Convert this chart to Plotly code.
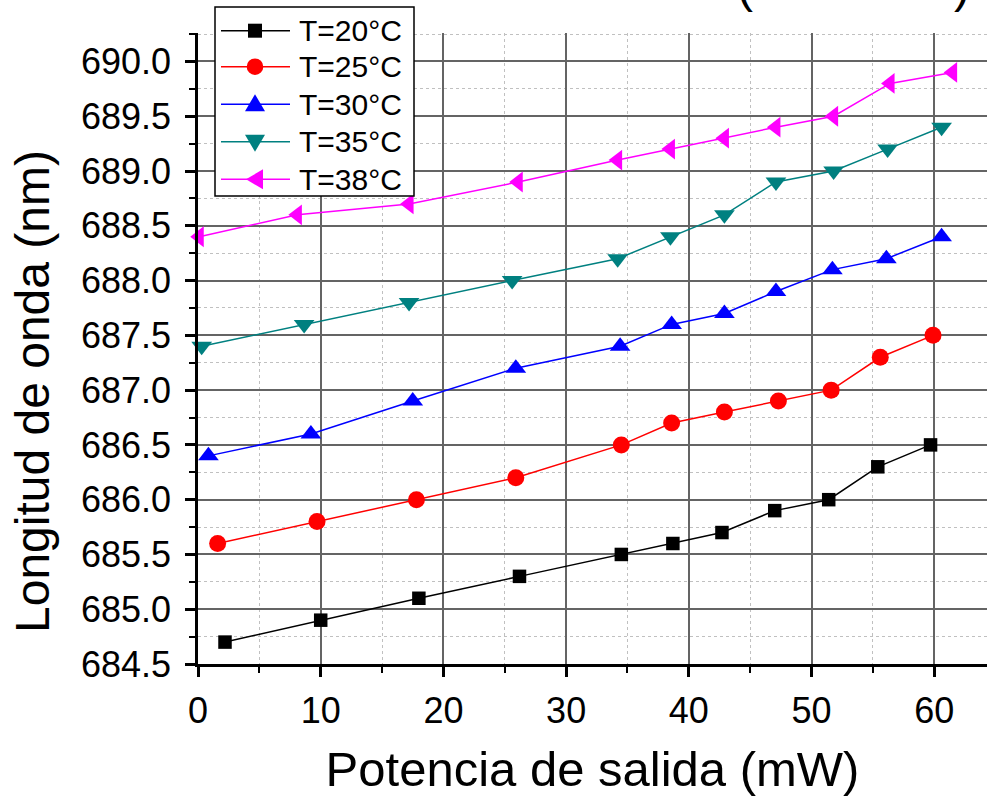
import plotly.graph_objects as go

# ---- data ----
x_20 = [2.2, 10.0, 18.0, 26.2, 34.5, 38.7, 42.7, 47.0, 51.4, 55.4, 59.7]
y_20 = [684.7, 684.9, 685.1, 685.3, 685.5, 685.6, 685.7, 685.9, 686.0, 686.3, 686.5]

x_25 = [1.6, 9.7, 17.8, 25.9, 34.5, 38.6, 42.9, 47.3, 51.6, 55.6, 59.9]
y_25 = [685.6, 685.8, 686.0, 686.2, 686.5, 686.7, 686.8, 686.9, 687.0, 687.3, 687.5]

x_30 = [0.85, 9.2, 17.5, 25.9, 34.4, 38.6, 42.9, 47.1, 51.7, 56.1, 60.6]
y_30 = [686.4, 686.6, 686.9, 687.2, 687.4, 687.6, 687.7, 687.9, 688.1, 688.2, 688.4]

x_35 = [0.3, 8.65, 17.2, 25.6, 34.2, 38.5, 42.9, 47.1, 51.8, 56.2, 60.6]
y_35 = [687.4, 687.6, 687.8, 688.0, 688.2, 688.4, 688.6, 688.9, 689.0, 689.2, 689.4]

x_38 = [0.1, 8.1, 17.2, 26.1, 34.2, 38.5, 42.9, 47.1, 51.8, 56.4, 61.5]
y_38 = [688.4, 688.6, 688.7, 688.9, 689.1, 689.2, 689.3, 689.4, 689.5, 689.8, 689.9]

series_names = ["T=20°C", "T=25°C", "T=30°C", "T=35°C", "T=38°C"]
series_colors = ["#000000", "#ff0000", "#0000ff", "#008080", "#ff00ff"]
series_symbols = ["square", "circle", "triangle-up", "triangle-down", "triangle-left"]
x_title = "Potencia de salida (mW)"
y_title = "Longitud de onda (nm)"

FONT = "Liberation Sans, Arial, sans-serif"
W, H = 987, 799
ML, MR, MT, MB = 198, 0, 33, 135
PW, PH = W - ML - MR, H - MT - MB

marker_sizes = [13.5, 17, 18, 18, 18]
xs = [x_20, x_25, x_30, x_35, x_38]
ys = [y_20, y_25, y_30, y_35, y_38]

fig = go.Figure()
for name, xv, yv, col, sym, sz in zip(series_names, xs, ys, series_colors,
                                      series_symbols, marker_sizes):
    fig.add_trace(go.Scatter(
        x=xv, y=yv, name=name, mode="lines+markers", showlegend=False,
        line=dict(color=col, width=1.5),
        marker=dict(color=col, symbol=sym, size=sz, line=dict(width=0)),
        cliponaxis=False,
    ))

axis_common = dict(
    showline=True, linecolor="black", linewidth=2.5,
    ticks="outside", ticklen=10, tickwidth=2.5, tickcolor="black",
    showgrid=True, gridcolor="#646464", gridwidth=1.5,
    zeroline=False,
    tickfont=dict(family=FONT, size=36, color="black"),
)

fig.update_xaxes(
    **axis_common,
    range=[0, 64.3], dtick=10, tick0=0, ticklabelstandoff=3,
    minor=dict(dtick=5, tick0=0, showgrid=True, gridcolor="#c0c0c0",
               griddash="dot", gridwidth=1, ticks="outside", ticklen=6,
               tickwidth=2, tickcolor="black"),
    title_text=x_title, title_standoff=22,
    title_font=dict(family=FONT, size=49, color="black"),
)
fig.update_yaxes(
    **axis_common,
    range=[684.5, 690.26], dtick=0.5, tick0=684.5, tickformat=".1f",
    ticklabelstandoff=7,
    minor=dict(dtick=0.25, tick0=684.5, showgrid=True, gridcolor="#c0c0c0",
               griddash="dot", gridwidth=1, ticks="outside", ticklen=6,
               tickwidth=2, tickcolor="black"),
)


def px(xp):
    return (xp - ML) / PW


def py(yp):
    return (H - MB - yp) / PH


# y-axis title (as annotation to match its vertical placement)
fig.add_annotation(x=px(32), y=py(392), xref="paper", yref="paper",
                   text=y_title, textangle=-90, showarrow=False,
                   xanchor="center", yanchor="middle",
                   font=dict(family=FONT, size=48, color="black"))

# partially visible title parentheses cut by the top edge
for xp_, txt in [(745, "("), (962, ")")]:
    fig.add_annotation(x=px(xp_), y=py(-14.5), xref="paper", yref="paper",
                       text=txt, showarrow=False, xanchor="center",
                       yanchor="middle",
                       font=dict(family=FONT, size=48, color="black"))

# ---- legend drawn in figure space ----
shapes = []
box = dict(x0=215, x1=414, y0=7, y1=196)
shapes.append(dict(type="rect", xref="paper", yref="paper",
                   x0=px(box["x0"]), x1=px(box["x1"]),
                   y0=py(box["y1"]), y1=py(box["y0"]),
                   line=dict(color="black", width=1.5), fillcolor="white",
                   layer="above"))
row_y = [30.7, 66.7, 104.3, 141.7, 179.3]
line_x0, line_x1, mark_x, text_x = 221, 290, 255, 297


def path_from(points):
    return "M " + " L ".join(f"{px(a):.5f},{py(b):.5f}" for a, b in points) + " Z"


for name, col, sym, yc in zip(series_names, series_colors, series_symbols, row_y):
    shapes.append(dict(type="line", xref="paper", yref="paper",
                       x0=px(line_x0), x1=px(line_x1), y0=py(yc), y1=py(yc),
                       line=dict(color=col, width=1.5), layer="above"))
    if sym == "square":
        h = 7
        shapes.append(dict(type="rect", xref="paper", yref="paper",
                           x0=px(mark_x - h), x1=px(mark_x + h),
                           y0=py(yc + h), y1=py(yc - h),
                           fillcolor=col, line=dict(width=0), layer="above"))
    elif sym == "circle":
        r = 8.3
        shapes.append(dict(type="circle", xref="paper", yref="paper",
                           x0=px(mark_x - r), x1=px(mark_x + r),
                           y0=py(yc + r), y1=py(yc - r),
                           fillcolor=col, line=dict(width=0), layer="above"))
    else:
        if sym == "triangle-up":
            pts = [(mark_x - 10, yc + 7), (mark_x + 10, yc + 7), (mark_x, yc - 10)]
        elif sym == "triangle-down":
            pts = [(mark_x - 10, yc - 7), (mark_x + 10, yc - 7), (mark_x, yc + 10)]
        else:
            pts = [(mark_x + 8, yc - 10), (mark_x + 8, yc + 10), (mark_x - 9, yc)]
        shapes.append(dict(type="path", xref="paper", yref="paper",
                           path=path_from(pts), fillcolor=col,
                           line=dict(width=0), layer="above"))
    fig.add_annotation(x=px(text_x), y=py(yc), xref="paper", yref="paper",
                       text=name, showarrow=False, xanchor="left",
                       yanchor="middle",
                       font=dict(family=FONT, size=30, color="black"))

fig.update_layout(
    width=W, height=H,
    margin=dict(l=ML, r=MR, t=MT, b=MB),
    plot_bgcolor="white", paper_bgcolor="white",
    shapes=shapes,
    showlegend=False,
)

fig.write_html("out.html")
